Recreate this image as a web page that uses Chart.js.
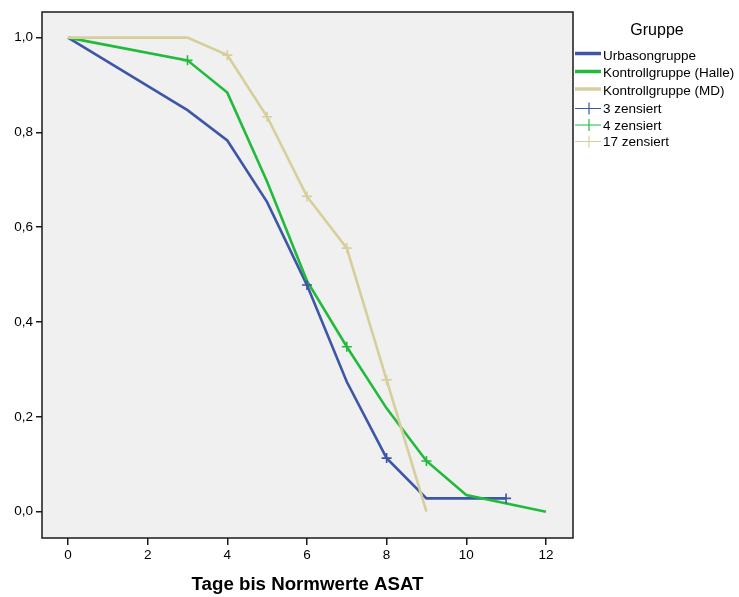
<!DOCTYPE html>
<html>
<head>
<meta charset="utf-8">
<script src="https://cdn.jsdelivr.net/npm/chart.js@4"></script>
<style>
  html, body { margin: 0; padding: 0; background: #ffffff; }
  #wrap { width: 739px; height: 597px; }
</style>
</head>
<body>
<div id="wrap"><canvas id="c" width="739" height="597"></canvas></div>
<script>
// ---- data ----
const groupNames = ["Urbasongruppe", "Kontrollgruppe (Halle)", "Kontrollgruppe (MD)"];
const censoredNames = ["3 zensiert", "4 zensiert", "17 zensiert"];

const urbasonDays = [0, 3, 4, 5, 6, 7, 8, 9, 11];
const urbasonSurv = [1.0, 0.847, 0.783, 0.653, 0.478, 0.274, 0.113, 0.028, 0.028];
const urbasonCensDays = [6, 8, 11];
const urbasonCensSurv = [0.478, 0.113, 0.028];

const halleDays = [0, 3, 4, 5, 6, 7, 8, 9, 10, 12];
const halleSurv = [1.0, 0.952, 0.884, 0.696, 0.487, 0.348, 0.218, 0.107, 0.035, 0.0];
const halleCensDays = [3, 7, 9];
const halleCensSurv = [0.952, 0.348, 0.107];

const mdDays = [0, 3, 4, 5, 6, 7, 8, 9];
const mdSurv = [1.0, 1.0, 0.963, 0.833, 0.665, 0.556, 0.278, 0.0];
const mdCensDays = [4, 5, 6, 7, 8];
const mdCensSurv = [0.963, 0.833, 0.665, 0.556, 0.278];

const xTickValues = [0, 2, 4, 6, 8, 10, 12];
const xTickLabels = ["0", "2", "4", "6", "8", "10", "12"];
const yTickValues = [0.0, 0.2, 0.4, 0.6, 0.8, 1.0];
const yTickLabels = ["0,0", "0,2", "0,4", "0,6", "0,8", "1,0"];

const xTitle = "Tage bis Normwerte ASAT";
const legendTitle = "Gruppe";

// ---- styling ----
const colors = ["#3d56a8", "#21bb3c", "#d6cf9b"];
const FONT = "'Liberation Sans', Arial, sans-serif";

function pts(xs, ys) { return xs.map((x, i) => ({ x: x, y: ys[i] })); }

const lineSets = [
  [urbasonDays, urbasonSurv],
  [halleDays, halleSurv],
  [mdDays, mdSurv]
];
const censSets = [
  [urbasonCensDays, urbasonCensSurv],
  [halleCensDays, halleCensSurv],
  [mdCensDays, mdCensSurv]
];

const datasets = [];
lineSets.forEach((s, i) => {
  datasets.push({
    label: groupNames[i],
    data: pts(s[0], s[1]),
    showLine: true,
    borderColor: colors[i],
    backgroundColor: colors[i],
    borderWidth: 2.6,
    pointRadius: 0,
    pointHoverRadius: 0,
    tension: 0,
    fill: false,
    order: 3 - i
  });
});
censSets.forEach((s, i) => {
  datasets.push({
    label: censoredNames[i],
    data: pts(s[0], s[1]),
    showLine: false,
    pointStyle: 'cross',
    pointRadius: 5,
    pointBorderWidth: 1.6,
    pointBorderColor: colors[i],
    pointBackgroundColor: colors[i],
    borderColor: colors[i],
    order: 0
  });
});

const plotBg = {
  id: 'plotBg',
  beforeDatasetsDraw(chart) {
    const a = chart.chartArea, ctx = chart.ctx;
    ctx.save();
    ctx.fillStyle = '#f0f0f0';
    ctx.fillRect(a.left, a.top, a.right - a.left, a.bottom - a.top);
    ctx.restore();
  },
  afterDatasetsDraw(chart) {
    const a = chart.chartArea, ctx = chart.ctx;
    ctx.save();
    ctx.strokeStyle = '#1a1a1a';
    ctx.lineWidth = 1.5;
    ctx.strokeRect(a.left, a.top, a.right - a.left, a.bottom - a.top);
    ctx.restore();
  }
};

const customLegend = {
  id: 'customLegend',
  afterDraw(chart) {
    const ctx = chart.ctx;
    ctx.save();
    ctx.fillStyle = '#000';
    ctx.font = "16px " + FONT;
    ctx.textAlign = 'center';
    ctx.textBaseline = 'middle';
    ctx.fillText(legendTitle, 657, 31);
    ctx.font = "13.5px " + FONT;
    ctx.textAlign = 'left';
    const x0 = 575, x1 = 601, tx = 603;
    const rows = [56, 73.5, 91];
    const lineRows = [53.5, 71.5, 89];
    for (let i = 0; i < 3; i++) {
      ctx.strokeStyle = colors[i];
      ctx.lineWidth = 3.5;
      ctx.beginPath();
      ctx.moveTo(x0, lineRows[i]);
      ctx.lineTo(x1, lineRows[i]);
      ctx.stroke();
      ctx.fillStyle = '#000';
      ctx.fillText(groupNames[i], tx, rows[i]);
    }
    const crossRows = [108.5, 125, 141.5];
    for (let i = 0; i < 3; i++) {
      const y = crossRows[i];
      ctx.strokeStyle = colors[i];
      ctx.lineWidth = 1.2;
      ctx.beginPath();
      ctx.moveTo(x0, y);
      ctx.lineTo(x1, y);
      ctx.moveTo(589, y - 6);
      ctx.lineTo(589, y + 6);
      ctx.stroke();
      ctx.fillStyle = '#000';
      ctx.fillText(censoredNames[i], tx, y + 1);
    }
    ctx.restore();
  }
};

new Chart(document.getElementById('c'), {
  type: 'scatter',
  data: { datasets: datasets },
  options: {
    responsive: false,
    animation: false,
    devicePixelRatio: 1,
    layout: { padding: { top: 12, right: 166, left: 0, bottom: 0 } },
    plugins: {
      legend: { display: false },
      tooltip: { enabled: false }
    },
    scales: {
      x: {
        type: 'linear',
        min: -0.653,
        max: 12.68,
        afterBuildTicks(scale) { scale.ticks = xTickValues.map(v => ({ value: v })); },
        afterFit(scale) { scale.height = 59; },
        ticks: {
          includeBounds: false,
          color: '#000',
          font: { family: FONT, size: 13.5 },
          padding: 2,
          maxRotation: 0,
          autoSkip: false,
          callback(v) { const k = xTickValues.indexOf(v); return k >= 0 ? xTickLabels[k] : ''; }
        },
        grid: {
          display: true,
          drawOnChartArea: false,
          drawTicks: true,
          tickLength: 7,
          color: '#1a1a1a',
          lineWidth: 1.5
        },
        border: { display: false },
        title: {
          display: true,
          text: xTitle,
          color: '#000',
          font: { family: FONT, size: 18.7, weight: 'bold' },
          padding: { top: 0, bottom: 1 }
        }
      },
      y: {
        type: 'linear',
        min: -0.0555,
        max: 1.054,
        afterBuildTicks(scale) { scale.ticks = yTickValues.map(v => ({ value: v })); },
        afterFit(scale) { scale.width = 42; },
        ticks: {
          includeBounds: false,
          color: '#000',
          font: { family: FONT, size: 13.5 },
          padding: 3,
          autoSkip: false,
          callback(v) {
            const k = yTickValues.findIndex(t => Math.abs(t - v) < 1e-9);
            return k >= 0 ? yTickLabels[k] : '';
          }
        },
        grid: {
          display: true,
          drawOnChartArea: false,
          drawTicks: true,
          tickLength: 6,
          color: '#1a1a1a',
          lineWidth: 1.5
        },
        border: { display: false }
      }
    }
  },
  plugins: [plotBg, customLegend]
});
</script>
</body>
</html>
